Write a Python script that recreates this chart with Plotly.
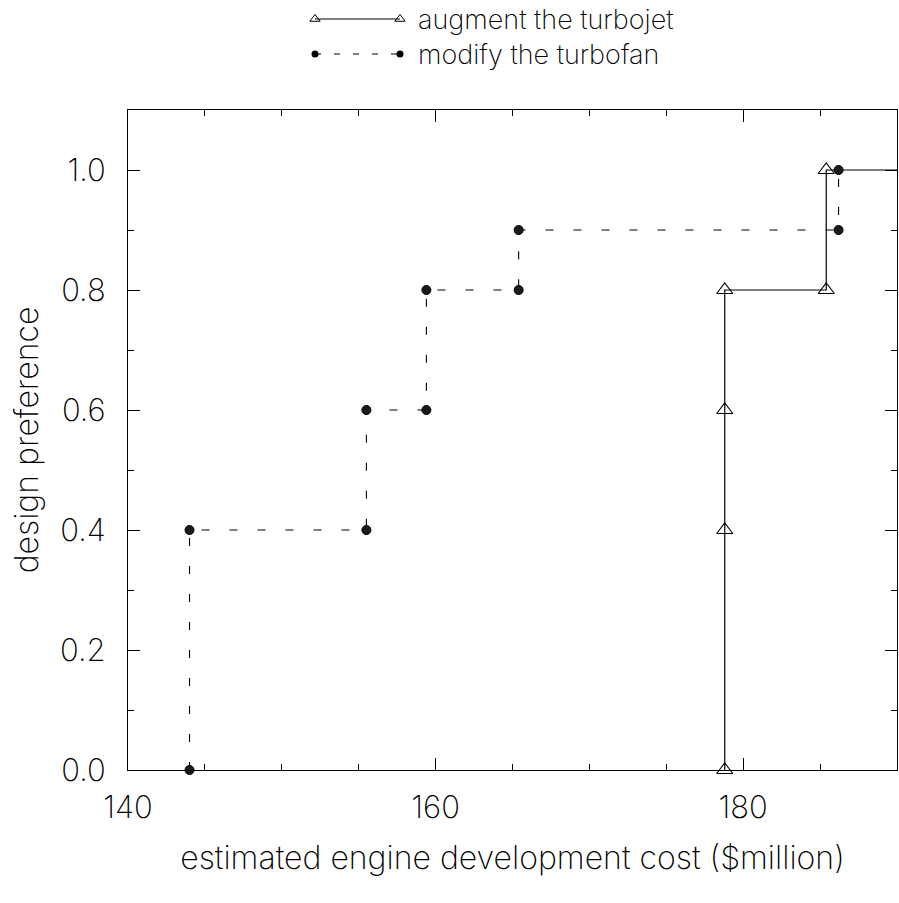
import plotly.graph_objects as go

# Cumulative design-preference steps against development cost
jet_cost = [178.8, 178.8, 178.8, 178.8, 185.4, 185.4]
jet_pref = [0.0, 0.4, 0.6, 0.8, 0.8, 1.0]

fan_cost = [144.0, 144.0, 155.5, 155.5, 159.4, 159.4, 165.4, 165.4, 186.2, 186.2]
fan_pref = [0.0, 0.4, 0.4, 0.6, 0.6, 0.8, 0.8, 0.9, 0.9, 1.0]

series_names = ["augment the turbojet", "modify the turbofan"]
x_title = "estimated engine development cost ($million)"
y_title = "design preference"

X_RANGE = [140, 190]
Y_RANGE = [0, 1.1]

FONT = "Inter, Lato, DejaVu Sans, sans-serif"
FW = 200
INK = "black"

W, H = 899, 903
M_L, M_R, M_T, M_B = 128, 2, 5, 133
plot_h = H - M_T - M_B
main_top = (H - M_B - 110) / plot_h  # frame top sits at y=110 px

fig = go.Figure()

# turbojet: solid step line, carried on to the right edge at its final level
fig.add_trace(go.Scatter(
    x=jet_cost + [X_RANGE[1]], y=jet_pref + [jet_pref[-1]],
    mode="lines", line=dict(color=INK, width=1.2),
    hoverinfo="skip", showlegend=False, cliponaxis=False))
fig.add_trace(go.Scatter(
    x=jet_cost, y=jet_pref, mode="markers",
    marker=dict(symbol="triangle-up-open", size=14, color=INK, line=dict(width=1.1)),
    name=series_names[0], showlegend=False, cliponaxis=False))

# turbofan: dashed step line with dot markers
fig.add_trace(go.Scatter(
    x=fan_cost, y=fan_pref, mode="lines",
    line=dict(color=INK, width=1.1, dash="8px,20px"),
    hoverinfo="skip", showlegend=False, cliponaxis=False))
fig.add_trace(go.Scatter(
    x=fan_cost, y=fan_pref, mode="markers",
    marker=dict(symbol="circle", size=9, color="#1a1a1a", line=dict(color=INK, width=1)),
    name=series_names[1], showlegend=False, cliponaxis=False))

# key drawn above the frame on a pixel-scaled helper axis pair
key_rows = [19, 54]
key_x = [315, 400]
fig.add_trace(go.Scatter(
    x=key_x, y=[key_rows[0]] * 2, xaxis="x2", yaxis="y2", mode="lines+markers",
    line=dict(color=INK, width=1.2),
    marker=dict(symbol="triangle-up-open", size=9, color=INK, line=dict(width=1)),
    hoverinfo="skip", showlegend=False, cliponaxis=False))
fig.add_trace(go.Scatter(
    x=key_x, y=[key_rows[1]] * 2, xaxis="x2", yaxis="y2", mode="lines+markers",
    line=dict(color=INK, width=1.1, dash="6px,13px"),
    marker=dict(symbol="circle", size=7, color=INK),
    hoverinfo="skip", showlegend=False, cliponaxis=False))
for name, row in zip(series_names, key_rows):
    fig.add_annotation(x=416, y=row, xref="x2", yref="y2", text=name,
                       showarrow=False, xanchor="left", yanchor="middle",
                       font=dict(family=FONT, size=27, color=INK, weight=FW))

axis_common = dict(
    showgrid=False, zeroline=False, showline=True, linecolor=INK, linewidth=1.2,
    mirror="ticks", ticks="inside", ticklen=12, tickwidth=1.2, tickcolor=INK,
    tickfont=dict(family=FONT, size=31, color=INK, weight=FW),
    title_font=dict(family=FONT, size=32, color=INK, weight=FW),
)

fig.update_layout(
    width=W, height=H,
    margin=dict(l=M_L, r=M_R, t=M_T, b=M_B, pad=0),
    paper_bgcolor="white", plot_bgcolor="white",
    xaxis=dict(
        range=X_RANGE, dtick=20, tick0=140,
        minor=dict(dtick=5, ticklen=6, tickwidth=1, tickcolor=INK, ticks="inside"),
        title=dict(text=x_title, standoff=22),
        ticklabelstandoff=10,
        domain=[0, 1],
        **axis_common,
    ),
    yaxis=dict(
        range=Y_RANGE, dtick=0.2, tick0=0, tickformat=".1f",
        minor=dict(dtick=0.1, ticklen=6, tickwidth=1, tickcolor=INK, ticks="inside"),
        title=dict(text=y_title, standoff=11),
        ticklabelstandoff=15,
        domain=[0, main_top],
        **axis_common,
    ),
    xaxis2=dict(range=[M_L, W - M_R], domain=[0, 1], anchor="y2", visible=False,
                fixedrange=True),
    yaxis2=dict(range=[110, 0 + M_T], domain=[main_top, 1], anchor="x2", visible=False,
                fixedrange=True),
)

fig.write_html("out.html")
